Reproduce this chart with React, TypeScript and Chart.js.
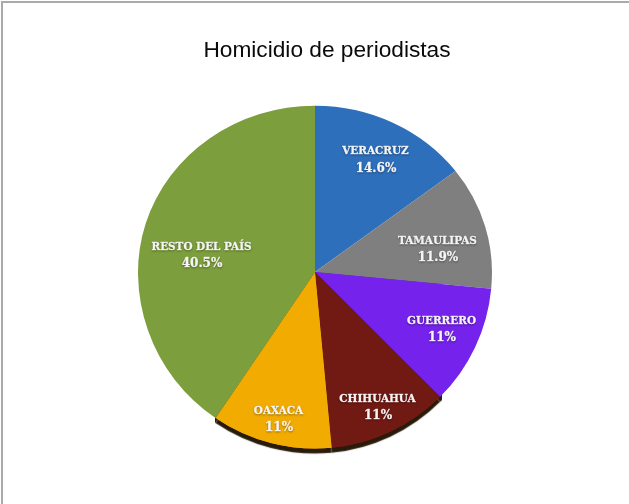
import React, { useEffect, useRef } from "react";
import { Chart, registerables } from "chart.js";

Chart.register(...registerables);

const titleText = "Homicidio de periodistas";
const categories = ["VERACRUZ", "TAMAULIPAS", "GUERRERO", "CHIHUAHUA", "OAXACA", "RESTO DEL PAÍS"];
const shares = [14.6, 11.9, 11, 11, 11, 40.5];
const shareLabels = ["14.6%", "11.9%", "11%", "11%", "11%", "40.5%"];
const sliceColors = ["#2E6FBB", "#7F7F7F", "#7523EC", "#711A14", "#F2AB00", "#7D9E3C"];
const labelShifts = [
  [21.3, -33.7],
  [37.4, 0.9],
  [46.4, 18.8],
  [24.8, 54.4],
  [-14.5, 60.7],
  [-28.9, 8.5],
];

const tiltedPie = {
  id: "tiltedPie",
  afterLayout(chart: any) {
    chart.titleBlock.left += 12;
    chart.titleBlock.right += 12;
  },
  beforeDatasetsDraw(chart: any) {
    const { ctx, width, height } = chart;
    const meta = chart.getDatasetMeta(0);
    const first = meta.data[0];
    const cx = first.x;
    const cy = first.y;
    const r = first.outerRadius;
    const pass = (clipX: number, clipY: number, clipW: number, clipH: number, sy: number, shadow: boolean) => {
      ctx.save();
      ctx.beginPath();
      ctx.rect(clipX, clipY, clipW, clipH);
      ctx.clip();
      if (shadow) {
        ctx.shadowColor = "rgba(32,18,0,0.96)";
        ctx.shadowOffsetY = 5 * chart.currentDevicePixelRatio;
        ctx.shadowBlur = 1;
      }
      ctx.translate(0, cy);
      ctx.scale(1, sy);
      ctx.translate(0, -cy);
      meta.controller.draw();
      ctx.restore();
    };
    const lowerScale = 176.5 / r;
    const upperScale = 166.3 / r;
    pass(cx - 100, cy, 227, height - cy, lowerScale, true);
    pass(0, cy, width, height - cy, lowerScale, false);
    pass(0, 0, width, cy + 0.5, upperScale, false);
    return false;
  },
  afterDraw(chart: any) {
    const { ctx } = chart;
    const meta = chart.getDatasetMeta(0);
    ctx.save();
    ctx.textAlign = "center";
    ctx.textBaseline = "middle";
    ctx.fillStyle = "#FFFFFF";
    ctx.strokeStyle = "rgba(255,255,255,0.7)";
    ctx.lineWidth = 0.35;
    ctx.shadowColor = "rgba(0,0,0,0.35)";
    ctx.shadowBlur = 2;
    ctx.shadowOffsetY = 1;
    meta.data.forEach((arc: any, i: number) => {
      const c = arc.getCenterPoint();
      const x = c.x + labelShifts[i][0];
      const y = c.y + labelShifts[i][1] + 1;
      ctx.font = 'bold 11.6px "DejaVu Serif Condensed", "DejaVu Serif"';
      ctx.fillText(categories[i], x, y - 8.5);
      ctx.strokeText(categories[i], x, y - 8.5);
      ctx.font = 'bold 12px "DejaVu Serif"';
      ctx.fillText(shareLabels[i], x + 0.5, y + 8.5);
      ctx.strokeText(shareLabels[i], x + 0.5, y + 8.5);
    });
    ctx.restore();
  },
};

export default function App() {
  const ref = useRef<HTMLCanvasElement>(null);
  useEffect(() => {
    const chart = new Chart(ref.current as HTMLCanvasElement, {
      type: "pie",
      data: {
        labels: categories,
        datasets: [{ data: shares, backgroundColor: sliceColors, borderWidth: 0 }],
      },
      options: {
        responsive: false,
        animation: false,
        layout: { padding: { left: 138, right: 137, top: 37.5, bottom: 55 } },
        plugins: {
          legend: { display: false },
          tooltip: { enabled: false },
          title: {
            display: true,
            text: titleText,
            color: "#0A0A0A",
            font: { family: '"Liberation Sans"', size: 22.7, weight: "normal", lineHeight: 1.2 },
            padding: { top: 0, bottom: 30.3 },
          },
        },
      },
      plugins: [tiltedPie],
    } as any);
    return () => chart.destroy();
  }, []);
  return (
    <div style={{ position: "fixed", left: 0, top: 0, width: 629, height: 504, overflow: "hidden", background: "#fff" }}>
      <div style={{ position: "absolute", left: 1, top: 1, width: 700, height: 600, border: "2px solid #AAAAAA", boxSizing: "border-box" }} />
      <canvas ref={ref} width={629} height={504} style={{ position: "absolute", left: 0, top: 0 }} />
    </div>
  );
}
